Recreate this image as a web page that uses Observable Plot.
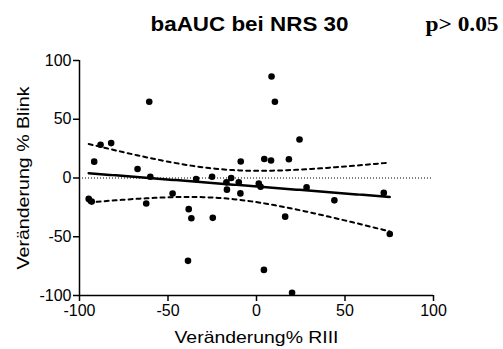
<!DOCTYPE html>
<html>
<head>
<meta charset="utf-8">
<script src="https://cdn.jsdelivr.net/npm/d3@7"></script>
<script src="https://cdn.jsdelivr.net/npm/@observablehq/plot@0.6"></script>
<style>
  html, body { margin: 0; padding: 0; background: #fff; }
</style>
</head>
<body>
<div id="chart"></div>
<script>
const title = "baAUC bei NRS 30";
const pText = "p> 0.05";
const xLabel = "Veränderung% RIII";
const yLabel = "Veränderung % Blink";
const xTicks = [-100, -50, 0, 50, 100];
const yTicks = [-100, -50, 0, 50, 100];

// Veränderung% RIII
const xs = [-91.7, -88.1, -82.1, -60.6, -67.2, -60.0, -34.1, -25.1, -8.9, -17.0,
            -14.3, -10.0, 8.5, 10.4, 24.3, 4.4, 8.2, 18.3, -9.1, 1.3,
            2.3, 28.3, 71.9, 44.0, 16.2, 75.3, 4.2, 20.1, -94.8, -93.1,
            -62.3, -47.4, -38.3, -36.8, -24.7, -38.7, -16.7];
// Veränderung % Blink
const ys = [13.9, 28.3, 29.7, 64.9, 7.6, 1.1, -0.9, 1.1, 14.1, -3.7,
            0.0, -3.7, 86.4, 64.9, 32.8, 16.2, 14.9, 16.0, -13.1, -4.8,
            -7.4, -8.0, -12.7, -19.0, -32.9, -47.6, -78.2, -97.7, -17.8, -20.1,
            -21.7, -13.2, -26.5, -34.2, -33.9, -70.5, -9.9];

const data = xs.map((x, i) => ({x, y: ys[i]}));

// linear regression with 95% confidence band
const n = xs.length;
const mx = d3.mean(xs), my = d3.mean(ys);
const sxx = d3.sum(xs, x => (x - mx) ** 2);
const sxy = d3.sum(xs.map((x, i) => (x - mx) * (ys[i] - my)));
const b = sxy / sxx, a = my - b * mx;
const s = Math.sqrt(d3.sum(xs.map((x, i) => (ys[i] - a - b * x) ** 2)) / (n - 2));
const tCrit = 2.03;
const [xMin, xMax] = d3.extent(xs);
const band = d3.range(0, 101).map(i => {
  const x = xMin + (xMax - xMin) * i / 100;
  const yh = a + b * x;
  const h = tCrit * s * Math.sqrt(1 / n + (x - mx) ** 2 / sxx);
  return {x, yh, lo: yh - h, hi: yh + h};
});

const font = "'Liberation Sans', Arial, sans-serif";
const fmt = d => `${d}`;

const chart = Plot.plot({
  width: 503,
  height: 349,
  marginLeft: 79,
  marginRight: 70,
  marginTop: 60,
  marginBottom: 54,
  style: {fontFamily: font, fontSize: "16px", color: "#000", background: "#fff"},
  x: {domain: [-100, 100]},
  y: {domain: [-100, 100]},
  marks: [
    Plot.ruleY([0], {stroke: "#000", strokeWidth: 1, strokeDasharray: "1,2"}),
    Plot.line(band, {x: "x", y: "hi", stroke: "#000", strokeWidth: 2, strokeDasharray: "4,4"}),
    Plot.line(band, {x: "x", y: "lo", stroke: "#000", strokeWidth: 2, strokeDasharray: "4,4"}),
    Plot.line(band, {x: "x", y: "yh", stroke: "#000", strokeWidth: 2.5}),
    Plot.dot(data, {x: "x", y: "y", r: 3.3, fill: "#000", stroke: "none"}),
    Plot.ruleX([-100], {stroke: "#000", strokeWidth: 1.5}),
    Plot.ruleY([-100], {stroke: "#000", strokeWidth: 1.5}),
    Plot.axisX({ticks: xTicks, tickFormat: fmt, tickSize: 6, tickPadding: 3, fontSize: 16, label: null, strokeWidth: 1.5}),
    Plot.axisY({ticks: yTicks, tickFormat: fmt, tickSize: 6, tickPadding: 2, fontSize: 16, label: null, strokeWidth: 1.5}),
    Plot.text([xLabel], {frameAnchor: "bottom", textAnchor: "middle", dy: 47, fontSize: 16.5, className: "lab-x"}),
    Plot.text([yLabel], {frameAnchor: "left", textAnchor: "middle", dx: -56, rotate: -90, fontSize: 16.5, className: "lab-y"}),
    Plot.text([title], {frameAnchor: "top", textAnchor: "middle", dx: -7, dy: -44, fontSize: 20, fontWeight: "bold", className: "lab-title"}),
    Plot.text([pText], {frameAnchor: "top-right", textAnchor: "start", dx: -8, dy: -44, fontSize: 20.5, fontWeight: "bold", fontFamily: "'Liberation Serif', 'Times New Roman', serif", className: "lab-p"})
  ]
});

// stretch titles horizontally to the widths seen in the reference
const widths = {"lab-x": 164, "lab-y": 183, "lab-title": 198, "lab-p": 73};
for (const [cls, w] of Object.entries(widths)) {
  chart.querySelectorAll(`.${cls} text`).forEach(t => {
    t.setAttribute("textLength", w);
    t.setAttribute("lengthAdjust", "spacingAndGlyphs");
  });
}
document.getElementById("chart").appendChild(chart);
</script>
</body>
</html>
